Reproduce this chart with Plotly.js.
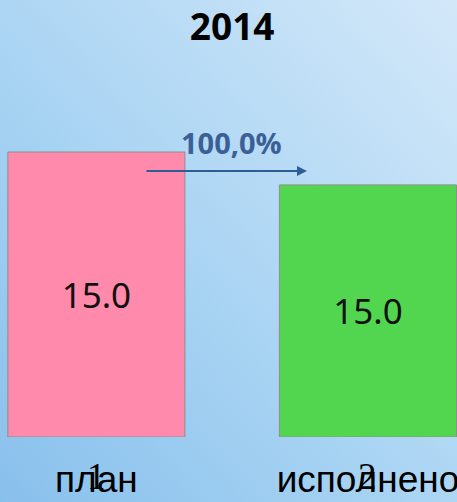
<!DOCTYPE html>
<html>
<head>
<meta charset="utf-8">
<script src="https://cdn.plot.ly/plotly-3.0.1.min.js"></script>
<style>
  html, body { margin: 0; padding: 0; }
  body { width: 457px; height: 502px; overflow: hidden;
         background: linear-gradient(to top right, #88C0EC 0%, #A9D4F3 45%, #D3E8F9 100%); }
  #chart { width: 457px; height: 502px; }
</style>
</head>
<body>
<div id="chart"></div>
<script>
// ---- data ----
const chartTitle = "2014";
const categories = ["план", "исполнено"];
const values = [15.0, 15.0];
const seriesNumbers = ["1", "2"];
const percentLabel = "100,0%";
const barColors = ["#FF8AAB", "#52D650"];

const traces = categories.map(function (c, i) {
  return {
    type: "bar",
    x: [c],
    y: [values[i]],
    yaxis: i === 0 ? "y" : "y2",
    text: [values[i].toFixed(1)],
    textposition: "inside",
    insidetextanchor: "middle",
    textfont: { family: "Noto Sans", size: 35, color: "#111111" },
    marker: { color: barColors[i], line: { color: "#8E8E8E", width: 1 } },
    hoverinfo: "none",
    showlegend: false
  };
});

const numberAnnotations = seriesNumbers.map(function (n, i) {
  return {
    text: n, x: categories[i], xref: "x", y: -0.04, yref: "paper",
    yanchor: "top", showarrow: false,
    font: { family: "Liberation Serif", size: 37, color: "#000000" }
  };
});

const layout = {
  width: 457, height: 502,
  margin: { l: 0, r: 0, t: 0, b: 65 },
  paper_bgcolor: "rgba(0,0,0,0)",
  plot_bgcolor: "rgba(0,0,0,0)",
  title: {
    text: "<b>" + chartTitle + "</b>",
    font: { family: "Open Sans", size: 37, color: "#000000" },
    x: 0.508, xanchor: "center", y: 0.946, yanchor: "middle", yref: "container"
  },
  bargap: 0.348,
  xaxis: {
    type: "category", range: [-0.355, 1.328],
    showgrid: false, zeroline: false, showline: false, ticks: "",
    tickfont: { family: "Liberation Sans", size: 37, color: "#000000" },
    ticklabelstandoff: 17
  },
  yaxis: { range: [0, 23.0], visible: false, fixedrange: true },
  yaxis2: { range: [0, 26.0], overlaying: "y", visible: false, fixedrange: true },
  annotations: numberAnnotations.concat([
    {
      text: "", x: 307 / 457, xref: "paper", y: (437 - 171) / 437, yref: "paper",
      showarrow: true, ax: -162, ay: 0, axref: "pixel", ayref: "pixel",
      arrowhead: 2, arrowsize: 1, arrowwidth: 2, arrowcolor: "#2E5C94"
    },
    {
      text: "<b>" + percentLabel + "</b>", x: 231 / 457, xref: "paper", xanchor: "center",
      y: (437 - 143) / 437, yref: "paper", yanchor: "middle", showarrow: false,
      font: { family: "Open Sans", size: 29, color: "#3A6097" }
    }
  ])
};

Plotly.newPlot("chart", traces, layout, { displayModeBar: false, staticPlot: true });
</script>
</body>
</html>
